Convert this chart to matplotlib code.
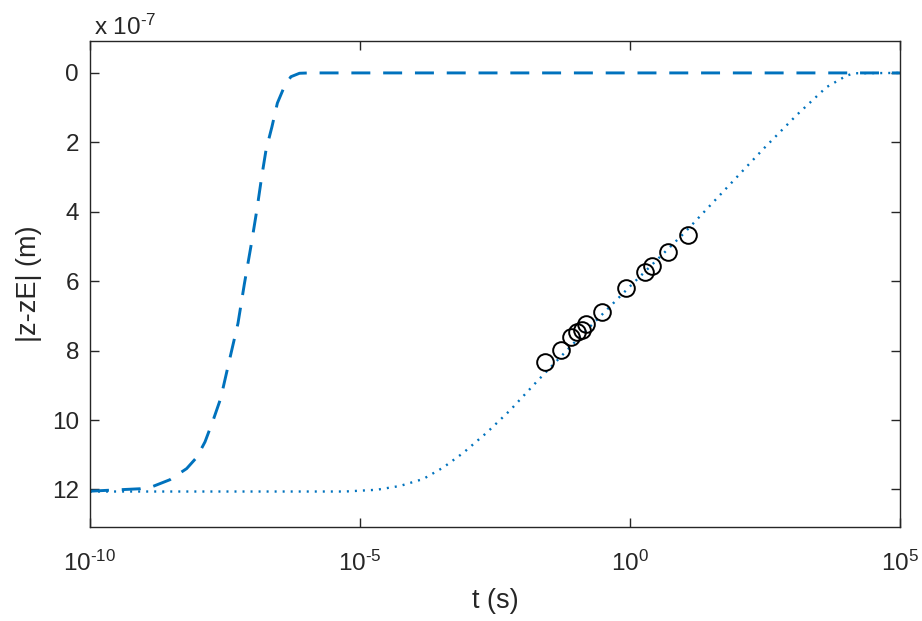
import numpy as np
import matplotlib
matplotlib.use("Agg")
import matplotlib.pyplot as plt
from matplotlib.ticker import FixedLocator, FuncFormatter, NullLocator

plt.rcParams['font.family'] = ['Liberation Sans', 'DejaVu Sans']
plt.rcParams['mathtext.fontset'] = 'custom'
plt.rcParams['mathtext.rm'] = 'Liberation Sans'
plt.rcParams['mathtext.default'] = 'regular'

# values: log10(t) and |z-zE| in units of 1e-7 m
fast_logt = [-10.0, -9.07, -8.83, -8.52, -8.21, -8.02, -7.87, -7.72, -7.58, -7.39,
             -7.26, -7.14, -7.01, -6.91, -6.82, -6.74, -6.63, -6.53, -6.40, -6.28,
             -6.12, -5.94, 5.0]
fast_z = [12.05, 11.98, 11.91, 11.72, 11.40, 11.07, 10.63, 10.01, 9.38, 8.09,
          7.22, 6.07, 4.91, 3.95, 2.99, 2.22, 1.55, 0.87, 0.39, 0.11,
          0.01, 0.0, 0.0]

slow_logt = [-10.0, -5.28, -4.69, -4.26, -3.83, -3.46, -3.09, -2.65, -2.22, -1.73,
             -1.0, 0.0, 1.0, 2.47, 3.09, 3.64, 4.01, 4.15, 5.0]
slow_z = [12.06, 12.06, 12.01, 11.90, 11.70, 11.37, 10.95, 10.36, 9.72, 8.90,
          7.72, 6.15, 4.62, 2.19, 1.21, 0.41, 0.08, 0.01, 0.0]

meas_logt = [-1.57, -1.28, -1.10, -0.98, -0.88, -0.81, -0.52, -0.07, 0.27, 0.40, 0.70, 1.08]
meas_z = [8.32, 7.97, 7.61, 7.46, 7.40, 7.22, 6.88, 6.20, 5.75, 5.57, 5.17, 4.66]

xticks = [1e-10, 1e-5, 1e0, 1e5]
yticks = [0, 2, 4, 6, 8, 10, 12]

blue = '#0072BD'
dark = '#262626'

fig = plt.figure(figsize=(9.22, 6.21), dpi=100)
ax = fig.add_axes([0.0976, 0.1515, 0.8785, 0.7825])

scale = 1e-7
ax.plot(10 ** np.array(fast_logt), np.array(fast_z) * scale, color=blue,
        lw=2.1, dashes=(6.5, 4.4))
ax.plot(10 ** np.array(slow_logt), np.array(slow_z) * scale, color=blue,
        lw=1.7, linestyle=(0, (0.85, 2.55)))
ax.plot(10 ** np.array(meas_logt), np.array(meas_z) * scale, 'o', mfc='none',
        mec='black', mew=1.4, ms=12)

ax.set_xscale('log')
ax.set_xlim(1e-10, 1e5)
ax.set_ylim(13.08 * scale, -0.92 * scale)

ax.xaxis.set_major_locator(FixedLocator(xticks))
ax.xaxis.set_minor_locator(NullLocator())
ax.xaxis.set_major_formatter(FuncFormatter(
    lambda v, p: r'$10^{\text{%d}}$' % round(np.log10(v))))
ax.yaxis.set_major_locator(FixedLocator([y * scale for y in yticks]))
ax.yaxis.set_major_formatter(FuncFormatter(lambda v, p: '%d' % round(v / scale)))

ax.tick_params(which='both', direction='in', top=True, right=True,
               length=6.5, width=1, colors=dark, labelsize=17.5)
ax.tick_params(axis='y', pad=8)
ax.tick_params(axis='x', pad=17)
for s in ax.spines.values():
    s.set_color(dark)
    s.set_linewidth(1.0)

ax.set_xlabel('t (s)', fontsize=19.5, color=dark, labelpad=9)
ax.set_ylabel('|z-zE| (m)', fontsize=19.5, color=dark, labelpad=7)
fig.text(0.102, 0.944, r'x $10^{\text{-7}}$', fontsize=17.5, color=dark,
         ha='left', va='baseline')

fig.savefig('out.png', dpi=100, facecolor='white')
